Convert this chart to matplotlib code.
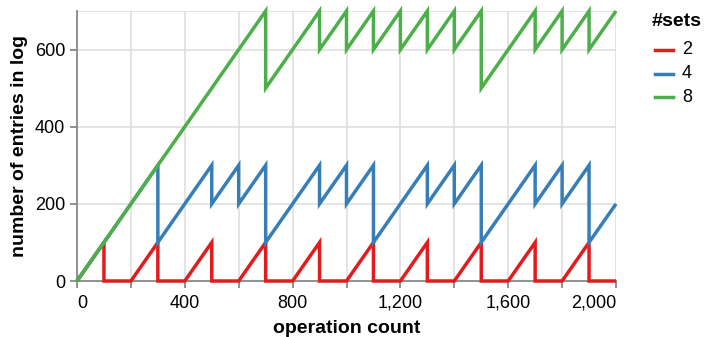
import matplotlib
matplotlib.use("Agg")
import matplotlib.pyplot as plt
from matplotlib.lines import Line2D

plt.rcParams['font.family'] = ['Liberation Sans', 'DejaVu Sans']

# ---- data (breakpoints) ----
set_names = ["2", "4", "8"]
colors = ["#e41a1c", "#377eb8", "#4daf4a"]

ops_2 = [0, 100, 100, 200, 300, 300, 400, 500, 500, 600, 700, 700, 800, 900, 900,
         1000, 1100, 1100, 1200, 1300, 1300, 1400, 1500, 1500, 1600, 1700, 1700,
         1800, 1900, 1900, 2000]
entries_2 = [0, 100, 0, 0, 100, 0, 0, 100, 0, 0, 100, 0, 0, 100, 0,
             0, 100, 0, 0, 100, 0, 0, 100, 0, 0, 100, 0,
             0, 100, 0, 0]

ops_4 = [0, 300, 300, 500, 500, 600, 600, 700, 700, 900, 900, 1000, 1000, 1100, 1100,
         1300, 1300, 1400, 1400, 1500, 1500, 1700, 1700, 1800, 1800, 1900, 1900, 2000]
entries_4 = [0, 300, 100, 300, 200, 300, 200, 300, 100, 300, 200, 300, 200, 300, 100,
             300, 200, 300, 200, 300, 100, 300, 200, 300, 200, 300, 100, 200]

ops_8 = [0, 700, 700, 900, 900, 1000, 1000, 1100, 1100, 1200, 1200, 1300, 1300, 1400,
         1400, 1500, 1500, 1700, 1700, 1800, 1800, 1900, 1900, 2000]
entries_8 = [0, 700, 500, 700, 600, 700, 600, 700, 600, 700, 600, 700, 600, 700,
             600, 700, 500, 700, 600, 700, 600, 700, 600, 700]

series_x = [ops_2, ops_4, ops_8]
series_y = [entries_2, entries_4, entries_8]

x_ticks = [0, 200, 400, 600, 800, 1000, 1200, 1400, 1600, 1800, 2000]
x_ticklabels = ["0", "", "400", "", "800", "", "1,200", "", "1,600", "", "2,000"]
y_ticks = [0, 200, 400, 600]
y_ticklabels = ["0", "200", "400", "600"]

# ---- figure ----
W, H = 704, 337
fig = plt.figure(figsize=(W / 100, H / 100), dpi=100)
left, right, bottom, top = 77, 616, 281, 11
ax = fig.add_axes([left / W, 1 - bottom / H, (right - left) / W, (bottom - top) / H])

grid_c = "#dddddd"
axis_c = "#888888"

for xs, ys, c in zip(series_x, series_y, colors):
    ax.plot(xs, ys, color=c, lw=2.5, clip_on=False, zorder=5,
            solid_joinstyle='miter', solid_capstyle='butt')

ax.set_xlim(0, 2000)
ax.set_ylim(0, 700)

for xv in x_ticks[1:]:
    ax.axvline(xv, color=grid_c, lw=1.1, zorder=0)
for yv in y_ticks[1:] + [700]:
    ax.axhline(yv, color=grid_c, lw=1.1, zorder=0)

for s in ["top", "right"]:
    ax.spines[s].set_visible(False)
for s in ["left", "bottom"]:
    ax.spines[s].set_color(axis_c)
    ax.spines[s].set_linewidth(1.3)
    ax.spines[s].set_zorder(1)

ax.set_xticks(x_ticks)
ax.set_xticklabels(x_ticklabels)
ax.set_yticks(y_ticks)
ax.set_yticklabels(y_ticklabels)
ax.tick_params(axis='both', colors=axis_c, labelcolor='black', length=5, width=1.3,
               labelsize=13)
ax.tick_params(axis='x', pad=5)
ax.tick_params(axis='y', pad=3.5)

xl = ax.get_xticklabels()
xl[0].set_horizontalalignment('left')
xl[-1].set_horizontalalignment('right')

ax.set_xlabel("operation count", fontsize=14, fontweight='bold', labelpad=6)
ax.set_ylabel("number of entries in log", fontsize=14, fontweight='bold', labelpad=5)

# ---- legend ----
fig.text(652 / W, 1 - 21 / H, "#sets", fontsize=14, fontweight='bold',
         ha='left', va='center')
row_y = [50, 73.5, 97]
for name, c, ry in zip(set_names, colors, row_y):
    fy = 1 - ry / H
    fig.add_artist(Line2D([655 / W, 673 / W], [fy, fy], color=c, lw=2.5,
                          transform=fig.transFigure))
    fig.text(682 / W, fy, name, fontsize=13, ha='left', va='center')

fig.savefig("out.png", dpi=100)
